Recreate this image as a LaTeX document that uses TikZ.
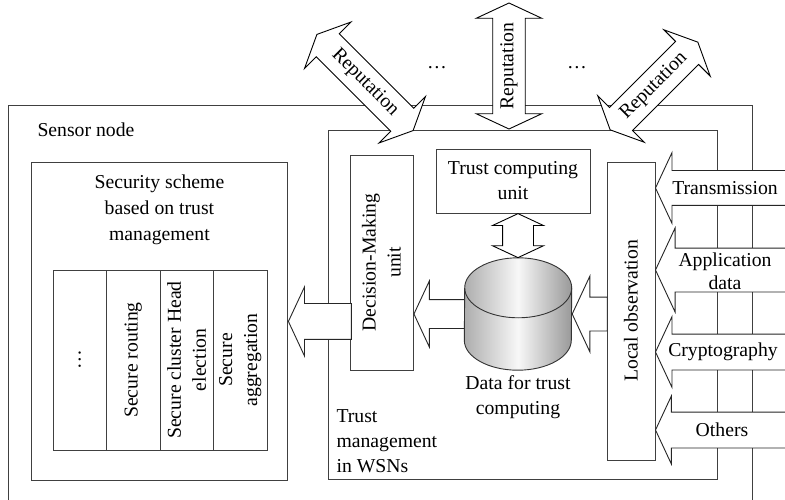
\documentclass[tikz,border=0pt]{standalone}
\usepackage{fontspec}
\setmainfont{Liberation Serif}
\usetikzlibrary{shapes,shapes.arrows,shapes.geometric,positioning,calc}

\begin{document}
\begin{tikzpicture}[
    x=1pt, y=-1pt,
    font=\fontsize{19.7}{25}\selectfont,
    box/.style={rectangle, draw=black!75, fill=white, line width=0.9pt, inner sep=0pt, align=center},
    column/.style={box, rotate=90, minimum width=180pt, minimum height=53.5pt},
    fatarrow/.style={single arrow, shape border rotate=180, anchor=tip, draw=black!85, fill=white, line width=0.9pt, inner xsep=1pt, single arrow tip angle=130},
    twoway/.style={double arrow, draw=black, fill=white, line width=0.9pt, inner xsep=0pt, inner ysep=7.15pt, double arrow head extend=16.5pt, double arrow tip angle=130},
    drum/.style={draw=black!80, line width=0.9pt, left color=black!32, right color=black!40, middle color=black!3}
]
\clip (0,0) rectangle (785,500);

% Sensor node
\node [box, anchor=north west, minimum width=744pt, minimum height=420pt] (sensor) at (8,105) {};
\node [anchor=west] (sensorlabel) at ($(sensor.north west)+(26,25)$) {Sensor node};

% Security scheme
\node [box, anchor=north west, minimum width=256pt, minimum height=318pt] (scheme) at (31,162) {};
\node [align=center, below=9pt of scheme.north] (schemetitle) {Security scheme\\[1pt]based on trust\\[1pt]management};
\node [column] (etc) at (79.75,360) {\ldots};
\node [column] (routing) at (133.25,360) {Secure routing};
\node [column] (election) at (186.75,360) {Secure cluster Head\\election};
\node [column] (aggregation) at (240.25,360) {Secure\\aggregation};

% Trust management
\node [box, anchor=north west, minimum width=389pt, minimum height=349pt] (trust) at (328,130) {};
\node [align=left, anchor=north west] (trustlabel) at ($(trust.south west)+(5,-74)$) {Trust\\management\\in WSNs};
\node [box, rotate=90, minimum width=215pt, minimum height=63pt] (dm) at (381.5,262.5) {Decision-Making\\unit};
\node [box, minimum width=154pt, minimum height=64pt] (tcu) at (513,181) {Trust computing\\unit};
\node [box, rotate=90, minimum width=298pt, minimum height=48pt] (lo) at (631,311) {Local observation};

% Data store
\node [minimum width=107pt, minimum height=112pt, inner sep=0pt] (db) at (518,314) {};
\node [fatarrow, inner ysep=14pt, single arrow head extend=18.5pt, minimum height=56pt] (dbout) at (dm.south |- db.east) {};
\path [drum] ($(db.south west)+(0,-30)$) arc[start angle=180, end angle=360, x radius=53.5pt, y radius=30pt]
    -- ($(db.north east)+(0,30)$) arc[start angle=0, end angle=180, x radius=53.5pt, y radius=30pt] -- cycle;
\draw [black!80, line width=0.9pt] ($(db.north east)+(0,30)$) arc[start angle=0, end angle=-180, x radius=53.5pt, y radius=30pt];
\node [align=center, below=2pt of db] (dblabel) {Data for trust\\computing};

% Inner arrows
\node [fatarrow, inner ysep=17.5pt, single arrow head extend=16.5pt, minimum height=63pt] (dmout) at (scheme.east) {};
\node [fatarrow, inner ysep=16.5pt, single arrow head extend=21pt, minimum height=35pt] (loout) at (db.east) {};
\node [double arrow, rotate=90, draw=black, fill=white, line width=0.9pt, inner xsep=0pt, inner ysep=15pt, double arrow head extend=10pt, double arrow tip angle=130, minimum height=44pt] (tcudb) at ($(db.north)!0.5!(db.north |- tcu.south)$) {};

% Reputation exchange
\node [twoway, rotate=-45, minimum height=136pt] (rep1) at (365,82.5) {Reputation};
\node [twoway, rotate=90, minimum height=126pt] (rep2) at (509,66) {Reputation};
\node [twoway, rotate=45, minimum height=124pt] (rep3) at (654,86) {Reputation};
\node (dots1) at (437,68) {\ldots};
\node (dots2) at (577,68) {\ldots};

% Inputs
\node [fatarrow, inner ysep=17pt, single arrow head extend=18pt, minimum height=150pt] (trans) at (655,188) {};
\node [fatarrow, inner ysep=21.5pt, single arrow head extend=20pt, minimum height=150pt] (appl) at (655,270) {};
\node [fatarrow, inner ysep=17.5pt, single arrow head extend=17.5pt, minimum height=150pt] (crypto) at (655,352) {};
\node [fatarrow, inner ysep=17.5pt, single arrow head extend=16pt, minimum height=150pt] (others) at (655,430) {};
\node (translabel) at (725,188) {Transmission};
\node [align=center] (appllabel) at (725,271) {Application\\[-2pt]data};
\node (cryptolabel) at (723,352) {Cryptography};
\node (otherslabel) at (722,430) {Others};

\end{tikzpicture}
\end{document}
